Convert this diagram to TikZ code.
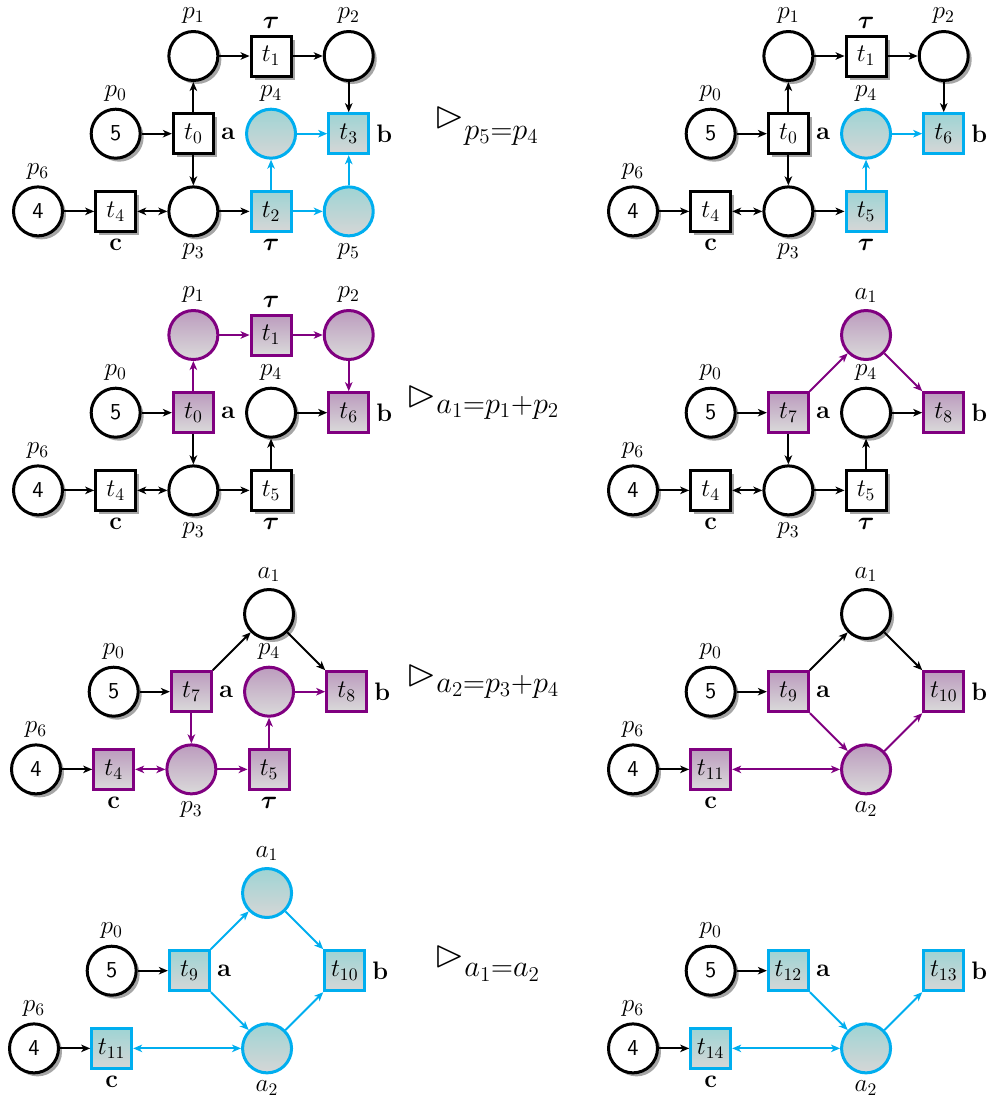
\documentclass[tikz,border=0pt]{standalone}
\usepackage{amsmath,amssymb}
\usetikzlibrary{shadows,arrows.meta}
\definecolor{cyA}{RGB}{0,174,239}
\definecolor{cyT}{RGB}{158,212,212}
\definecolor{cyB}{RGB}{214,214,214}
\definecolor{puA}{RGB}{128,0,128}
\definecolor{puT}{RGB}{188,156,190}
\definecolor{puB}{RGB}{218,218,218}
\tikzset{
  every node/.style={font=\fontsize{14}{16}\selectfont},
  pl/.style={circle, line width=0.06cm, minimum size=0.98cm, inner sep=0pt},
  tr/.style={rectangle, line width=0.06cm, minimum size=0.8cm, inner sep=0pt},
  blk/.style={draw=black, fill=white, drop shadow={shadow xshift=0.07cm, shadow yshift=-0.07cm, fill=black, opacity=0.35}},
  cyn/.style={draw=cyA, top color=cyT, bottom color=cyB},
  pur/.style={draw=puA, top color=puT, bottom color=puB},
  arc/.style={line width=0.04cm, -{Stealth[length=0.18cm, width=0.15cm, inset=0.05cm]}},
  darc/.style={line width=0.04cm, {Stealth[length=0.18cm, width=0.15cm, inset=0.05cm]}-{Stealth[length=0.18cm, width=0.15cm, inset=0.05cm]}},
  carc/.style={color=cyA},
  parc/.style={color=puA},
  tok/.style={font=\fontsize{13}{15}\selectfont\sffamily},
  rel/.style={anchor=base west, inner sep=0pt}
}
\begin{document}
\begin{tikzpicture}[x=0.02cm, y=-0.02cm]
\useasboundingbox (0,0) rectangle (991,1100);

% ---------------- Panel 1 (row 1, left)
\begin{scope}[shift={(38,56)}, x=1.554cm, y=-1.554cm]
\node[pl,blk,tok,label=above:$p_6$] (Ap6) at (0,2) {4};
\node[pl,blk,tok,label=above:$p_0$] (Ap0) at (1,1) {5};
\node[tr,blk,label=below:$\mathbf{c}$] (At4) at (1,2) {$t_4$};
\node[pl,blk,label=above:$p_1$] (Ap1) at (2,0) {};
\node[tr,blk,label=right:$\mathbf{a}$] (At0) at (2,1) {$t_0$};
\node[pl,blk,label=below:$p_3$] (Ap3) at (2,2) {};
\node[tr,blk,label=above:$\boldsymbol{\tau}$] (At1) at (3,0) {$t_1$};
\node[pl,cyn,label=above:$p_4$] (Ap4) at (3,1) {};
\node[tr,cyn,label=below:$\boldsymbol{\tau}$] (At2) at (3,2) {$t_2$};
\node[pl,blk,label=above:$p_2$] (Ap2) at (4,0) {};
\node[tr,cyn,label=right:$\mathbf{b}$] (At3) at (4,1) {$t_3$};
\node[pl,cyn,label=below:$p_5$] (Ap5) at (4,2) {};
\draw[arc] (Ap0) -- (At0);
\draw[arc] (At0) -- (Ap1);
\draw[arc] (At0) -- (Ap3);
\draw[arc] (Ap1) -- (At1);
\draw[arc] (At1) -- (Ap2);
\draw[arc] (Ap2) -- (At3);
\draw[arc] (Ap6) -- (At4);
\draw[darc] (At4) -- (Ap3);
\draw[arc] (Ap3) -- (At2);
\draw[arc,carc] (At2) -- (Ap4);
\draw[arc,carc] (At2) -- (Ap5);
\draw[arc,carc] (Ap4) -- (At3);
\draw[arc,carc] (Ap5) -- (At3);
\end{scope}

% ---------------- Panel 2 (row 1, right)
\begin{scope}[shift={(633,56)}, x=1.554cm, y=-1.554cm]
\node[pl,blk,tok,label=above:$p_6$] (Bp6) at (0,2) {4};
\node[pl,blk,tok,label=above:$p_0$] (Bp0) at (1,1) {5};
\node[tr,blk,label=below:$\mathbf{c}$] (Bt4) at (1,2) {$t_4$};
\node[pl,blk,label=above:$p_1$] (Bp1) at (2,0) {};
\node[tr,blk,label=right:$\mathbf{a}$] (Bt0) at (2,1) {$t_0$};
\node[pl,blk,label=below:$p_3$] (Bp3) at (2,2) {};
\node[tr,blk,label=above:$\boldsymbol{\tau}$] (Bt1) at (3,0) {$t_1$};
\node[pl,cyn,label=above:$p_4$] (Bp4) at (3,1) {};
\node[tr,cyn,label=below:$\boldsymbol{\tau}$] (Bt5) at (3,2) {$t_5$};
\node[pl,blk,label=above:$p_2$] (Bp2) at (4,0) {};
\node[tr,cyn,label=right:$\mathbf{b}$] (Bt6) at (4,1) {$t_6$};
\draw[arc] (Bp0) -- (Bt0);
\draw[arc] (Bt0) -- (Bp1);
\draw[arc] (Bt0) -- (Bp3);
\draw[arc] (Bp1) -- (Bt1);
\draw[arc] (Bt1) -- (Bp2);
\draw[arc] (Bp2) -- (Bt6);
\draw[arc] (Bp6) -- (Bt4);
\draw[darc] (Bt4) -- (Bp3);
\draw[arc] (Bp3) -- (Bt5);
\draw[arc,carc] (Bt5) -- (Bp4);
\draw[arc,carc] (Bp4) -- (Bt6);
\end{scope}

% ---------------- Panel 3 (row 2, left)
\begin{scope}[shift={(38,335)}, x=1.554cm, y=-1.554cm]
\node[pl,blk,tok,label=above:$p_6$] (Cp6) at (0,2) {4};
\node[pl,blk,tok,label=above:$p_0$] (Cp0) at (1,1) {5};
\node[tr,blk,label=below:$\mathbf{c}$] (Ct4) at (1,2) {$t_4$};
\node[pl,pur,label=above:$p_1$] (Cp1) at (2,0) {};
\node[tr,pur,label=right:$\mathbf{a}$] (Ct0) at (2,1) {$t_0$};
\node[pl,blk,label=below:$p_3$] (Cp3) at (2,2) {};
\node[tr,pur,label=above:$\boldsymbol{\tau}$] (Ct1) at (3,0) {$t_1$};
\node[pl,blk,label=above:$p_4$] (Cp4) at (3,1) {};
\node[tr,blk,label=below:$\boldsymbol{\tau}$] (Ct5) at (3,2) {$t_5$};
\node[pl,pur,label=above:$p_2$] (Cp2) at (4,0) {};
\node[tr,pur,label=right:$\mathbf{b}$] (Ct6) at (4,1) {$t_6$};
\draw[arc] (Cp0) -- (Ct0);
\draw[arc,parc] (Ct0) -- (Cp1);
\draw[arc] (Ct0) -- (Cp3);
\draw[arc,parc] (Cp1) -- (Ct1);
\draw[arc,parc] (Ct1) -- (Cp2);
\draw[arc,parc] (Cp2) -- (Ct6);
\draw[arc] (Cp6) -- (Ct4);
\draw[darc] (Ct4) -- (Cp3);
\draw[arc] (Cp3) -- (Ct5);
\draw[arc] (Ct5) -- (Cp4);
\draw[arc] (Cp4) -- (Ct6);
\end{scope}

% ---------------- Panel 4 (row 2, right)
\begin{scope}[shift={(633,335)}, x=1.554cm, y=-1.554cm]
\node[pl,blk,tok,label=above:$p_6$] (Dp6) at (0,2) {4};
\node[pl,blk,tok,label=above:$p_0$] (Dp0) at (1,1) {5};
\node[tr,blk,label=below:$\mathbf{c}$] (Dt4) at (1,2) {$t_4$};
\node[tr,pur,label=right:$\mathbf{a}$] (Dt7) at (2,1) {$t_7$};
\node[pl,blk,label=below:$p_3$] (Dp3) at (2,2) {};
\node[pl,pur,label=above:$a_1$] (Da1) at (3,0) {};
\node[pl,blk,label=above:$p_4$] (Dp4) at (3,1) {};
\node[tr,blk,label=below:$\boldsymbol{\tau}$] (Dt5) at (3,2) {$t_5$};
\node[tr,pur,label=right:$\mathbf{b}$] (Dt8) at (4,1) {$t_8$};
\draw[arc] (Dp0) -- (Dt7);
\draw[arc,parc] (Dt7) -- (Da1);
\draw[arc,parc] (Da1) -- (Dt8);
\draw[arc] (Dt7) -- (Dp3);
\draw[arc] (Dp6) -- (Dt4);
\draw[darc] (Dt4) -- (Dp3);
\draw[arc] (Dp3) -- (Dt5);
\draw[arc] (Dt5) -- (Dp4);
\draw[arc] (Dp4) -- (Dt8);
\end{scope}

% ---------------- Panel 5 (row 3, left)
\begin{scope}[shift={(36,614)}, x=1.554cm, y=-1.554cm]
\node[pl,blk,tok,label=above:$p_6$] (Ep6) at (0,2) {4};
\node[pl,blk,tok,label=above:$p_0$] (Ep0) at (1,1) {5};
\node[tr,pur,label=below:$\mathbf{c}$] (Et4) at (1,2) {$t_4$};
\node[tr,pur,label=right:$\mathbf{a}$] (Et7) at (2,1) {$t_7$};
\node[pl,pur,label=below:$p_3$] (Ep3) at (2,2) {};
\node[pl,blk,label=above:$a_1$] (Ea1) at (3,0) {};
\node[pl,pur,label=above:$p_4$] (Ep4) at (3,1) {};
\node[tr,pur,label=below:$\boldsymbol{\tau}$] (Et5) at (3,2) {$t_5$};
\node[tr,pur,label=right:$\mathbf{b}$] (Et8) at (4,1) {$t_8$};
\draw[arc] (Ep0) -- (Et7);
\draw[arc] (Et7) -- (Ea1);
\draw[arc] (Ea1) -- (Et8);
\draw[arc,parc] (Et7) -- (Ep3);
\draw[arc] (Ep6) -- (Et4);
\draw[darc,parc] (Et4) -- (Ep3);
\draw[arc,parc] (Ep3) -- (Et5);
\draw[arc,parc] (Et5) -- (Ep4);
\draw[arc,parc] (Ep4) -- (Et8);
\end{scope}

% ---------------- Panel 6 (row 3, right)
\begin{scope}[shift={(633,614)}, x=1.554cm, y=-1.554cm]
\node[pl,blk,tok,label=above:$p_6$] (Fp6) at (0,2) {4};
\node[pl,blk,tok,label=above:$p_0$] (Fp0) at (1,1) {5};
\node[tr,pur,label=below:$\mathbf{c}$] (Ft11) at (1,2) {$t_{11}$};
\node[tr,pur,label=right:$\mathbf{a}$] (Ft9) at (2,1) {$t_9$};
\node[pl,blk,label=above:$a_1$] (Fa1) at (3,0) {};
\node[pl,pur,label=below:$a_2$] (Fa2) at (3,2) {};
\node[tr,pur,label=right:$\mathbf{b}$] (Ft10) at (4,1) {$t_{10}$};
\draw[arc] (Fp0) -- (Ft9);
\draw[arc] (Ft9) -- (Fa1);
\draw[arc] (Fa1) -- (Ft10);
\draw[arc,parc] (Ft9) -- (Fa2);
\draw[arc,parc] (Fa2) -- (Ft10);
\draw[arc] (Fp6) -- (Ft11);
\draw[darc,parc] (Ft11) -- (Fa2);
\end{scope}

% ---------------- Panel 7 (row 4, left)
\begin{scope}[shift={(34,893)}, x=1.554cm, y=-1.554cm]
\node[pl,blk,tok,label=above:$p_6$] (Gp6) at (0,2) {4};
\node[pl,blk,tok,label=above:$p_0$] (Gp0) at (1,1) {5};
\node[tr,cyn,label=below:$\mathbf{c}$] (Gt11) at (1,2) {$t_{11}$};
\node[tr,cyn,label=right:$\mathbf{a}$] (Gt9) at (2,1) {$t_9$};
\node[pl,cyn,label=above:$a_1$] (Ga1) at (3,0) {};
\node[pl,cyn,label=below:$a_2$] (Ga2) at (3,2) {};
\node[tr,cyn,label=right:$\mathbf{b}$] (Gt10) at (4,1) {$t_{10}$};
\draw[arc] (Gp0) -- (Gt9);
\draw[arc,carc] (Gt9) -- (Ga1);
\draw[arc,carc] (Ga1) -- (Gt10);
\draw[arc,carc] (Gt9) -- (Ga2);
\draw[arc,carc] (Ga2) -- (Gt10);
\draw[arc] (Gp6) -- (Gt11);
\draw[darc,carc] (Gt11) -- (Ga2);
\end{scope}

% ---------------- Panel 8 (row 4, right)
\begin{scope}[shift={(633,893)}, x=1.554cm, y=-1.554cm]
\node[pl,blk,tok,label=above:$p_6$] (Hp6) at (0,2) {4};
\node[pl,blk,tok,label=above:$p_0$] (Hp0) at (1,1) {5};
\node[tr,cyn,label=below:$\mathbf{c}$] (Ht14) at (1,2) {$t_{14}$};
\node[tr,cyn,label=right:$\mathbf{a}$] (Ht12) at (2,1) {$t_{12}$};
\node[pl,cyn,label=below:$a_2$] (Ha2) at (3,2) {};
\node[tr,cyn,label=right:$\mathbf{b}$] (Ht13) at (4,1) {$t_{13}$};
\draw[arc] (Hp0) -- (Ht12);
\draw[arc,carc] (Ht12) -- (Ha2);
\draw[arc,carc] (Ha2) -- (Ht13);
\draw[arc] (Hp6) -- (Ht14);
\draw[darc,carc] (Ht14) -- (Ha2);
\end{scope}

% ---------------- reduction labels
\node[rel] (L1) at (434,127) {{\fontsize{22}{24}\selectfont$\rhd$}\raisebox{-7pt}{\fontsize{18}{20}\selectfont$p_5{=}p_4$}};
\node[rel] (L2) at (406,406) {{\fontsize{22}{24}\selectfont$\rhd$}\raisebox{-4pt}{\fontsize{18}{20}\selectfont$a_1{=}p_1{+}p_2$}};
\node[rel] (L3) at (406,685) {{\fontsize{22}{24}\selectfont$\rhd$}\raisebox{-4pt}{\fontsize{18}{20}\selectfont$a_2{=}p_3{+}p_4$}};
\node[rel] (L4) at (434,966) {{\fontsize{22}{24}\selectfont$\rhd$}\raisebox{-6pt}{\fontsize{18}{20}\selectfont$a_1{=}a_2$}};
\end{tikzpicture}
\end{document}
